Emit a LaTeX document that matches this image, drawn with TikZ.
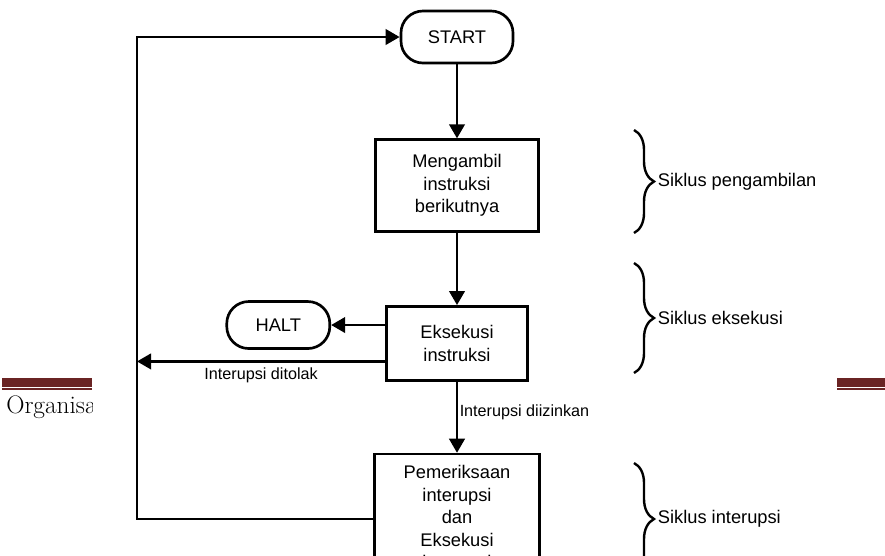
\documentclass[tikz,border=0pt]{standalone}
\usepackage{fontspec}
\newfontfamily\chartfont{Liberation Sans}
\usetikzlibrary{positioning, arrows.meta, shapes.misc, decorations.pathreplacing}
\definecolor{barred}{RGB}{106,36,36}
\tikzset{
    box/.style={draw, rectangle, line width=1.9pt, align=center, inner sep=2pt,
        font=\chartfont\fontsize{13}{16}\selectfont},
    term/.style={box, rounded corners=0.55cm},
    flow/.style={-{Triangle[length=10pt, width=11pt]}, line width=1.9pt},
    cyclebrace/.style={decorate, decoration={brace, amplitude=0.5cm}, line width=1.7pt},
    tag/.style={font=\chartfont\fontsize{11.5}{14}\selectfont},
    cyclename/.style={font=\chartfont\fontsize{13}{16}\selectfont},
}

\begin{document}
\begin{tikzpicture}[x=0.025cm, y=-0.025cm]
    \tikzset{
      node distance=1.8cm,
    }
    \useasboundingbox (0,0) rectangle (885,555);
    \clip (0,0) rectangle (885,555);

    % page footer bars
    \fill[barred] (2,378) rectangle (92,386.5);
    \fill[barred] (2,388) rectangle (92,390);
    \fill[barred] (837,378) rectangle (885,386.5);
    \fill[barred] (837,388) rectangle (885,390);
    \begin{scope}
      \clip (0,392) rectangle (92,430);
      \node[anchor=base west, inner sep=0pt, font=\fontsize{18}{20}\selectfont] (footer) at (6,413) {Organisasi};
    \end{scope}

    \node[term, minimum width=2.8cm, minimum height=1.3cm] (start) at (457,37) {START};
    \node[box, minimum width=4.075cm, minimum height=2.3cm, below=1.85cm of start] (fetch) {Mengambil\\instruksi\\berikutnya};
    \node[box, minimum width=3.525cm, minimum height=1.85cm, below=of fetch] (exec) {Eksekusi\\instruksi};
    \node[box, minimum width=4.125cm, minimum height=3.25cm, below=1.775cm of exec] (intr) {Pemeriksaan\\interupsi\\dan\\Eksekusi\\interupsi};
    \node[term, minimum width=2.575cm, minimum height=1.175cm, left=1.35cm of exec, yshift=0.46cm] (halt) {HALT};
    \coordinate (rail) at (137,37);

    \draw (start) edge[flow] (fetch);
    \draw (fetch) edge[flow] (exec);
    \draw (exec) edge[flow] node[right, tag, inner sep=1pt, yshift=0.12cm]{Interupsi diizinkan} (intr);
    \draw[flow] (exec.west |- halt.east) -- (halt.east);
    \draw[flow] ([yshift=-0.45cm]exec.west) -- ([yshift=-0.45cm]exec.west -| rail)
        node[midway, below, tag]{Interupsi ditolak};
    \draw[flow] (intr.west) -| (rail) -- (start.west);

    % cycle braces
    \draw[cyclebrace] (634,130) -- (634,233) node[midway, right=0.45cm, cyclename] (c1) {Siklus pengambilan};
    \draw[cyclebrace] (634,263) -- (634,373) node[midway, right=0.45cm, cyclename] (c2) {Siklus eksekusi};
    \draw[cyclebrace] (634,463) -- (634,575) node[midway, right=0.45cm, cyclename] (c3) {Siklus interupsi};
\end{tikzpicture}
\end{document}
